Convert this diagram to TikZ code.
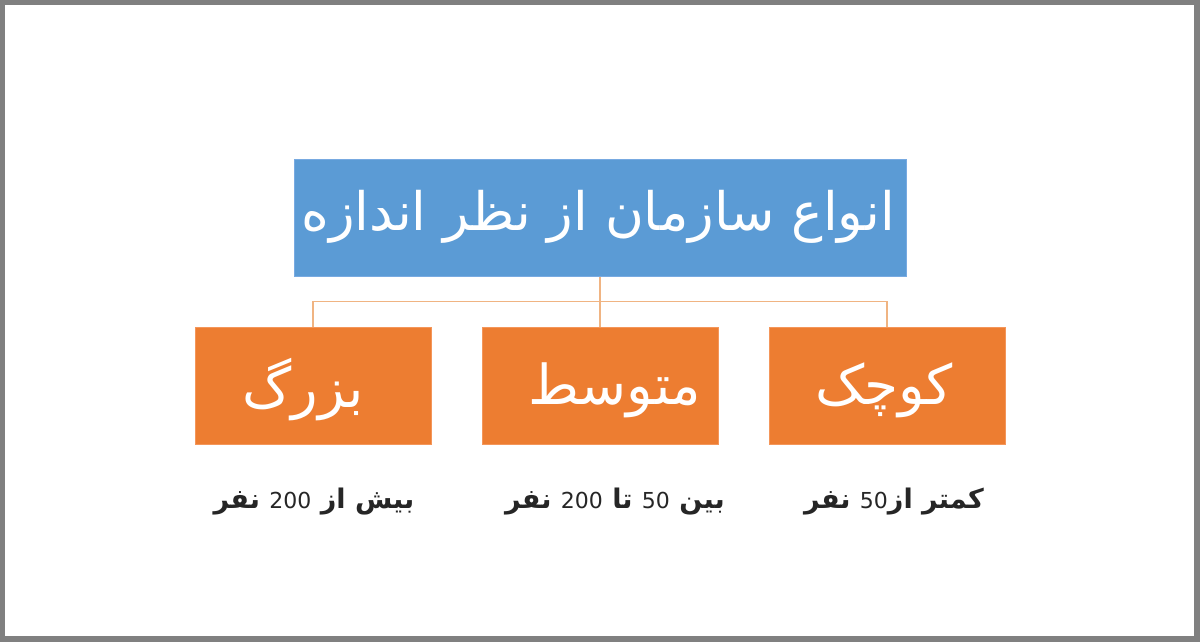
\documentclass[tikz,border=0pt]{standalone}
\usepackage{fontspec}
\TeXXeTstate=1
\newfontfamily\arabicfont[Script=Arabic]{DejaVu Sans}
\newfontfamily\digitfont{DejaVu Sans}
\usetikzlibrary{calc}
\definecolor{titleblue}{RGB}{91,155,213}
\definecolor{titleedge}{RGB}{120,170,225}
\definecolor{boxorange}{RGB}{237,125,49}
\definecolor{boxedge}{RGB}{244,150,90}
\definecolor{linkcol}{RGB}{240,180,130}
\definecolor{framegray}{RGB}{128,128,128}
\definecolor{captext}{RGB}{38,38,38}
\tikzset{
  titlebox/.style={fill=titleblue, draw=titleedge, line width=1pt, minimum width=612pt, minimum height=117pt, inner sep=0pt},
  sizebox/.style={fill=boxorange, draw=boxedge, line width=1pt, minimum width=236pt, minimum height=117pt, inner sep=0pt},
  titletext/.style={text=white, inner sep=0pt, font=\arabicfont\fontsize{53}{60}\selectfont},
  boxtext/.style={text=white, inner sep=0pt, font=\arabicfont\fontsize{55}{60}\selectfont},
  caption/.style={inner sep=0pt, text=captext, font=\arabicfont\bfseries\fontsize{27}{32}\selectfont},
  link/.style={draw=linkcol, line width=1.2pt}
}
\newcommand{\dg}[1]{{\digitfont\mdseries\fontsize{22}{26}\selectfont\beginL #1\endL}}
\begin{document}
\begin{tikzpicture}[x=1pt,y=-1pt]
\fill[framegray] (0,0) rectangle (1200,642);
\fill[white] (5,5) rectangle (1194,636);
\useasboundingbox (0,0) rectangle (1200,642);
\node[titlebox] (t) at (600,217.5) {};
\node[titletext] (tt) at (598,217) {\beginR انواع سازمان از نظر اندازه\endR};
\node[sizebox] (b1) at (313,385.5) {};
\node[sizebox] (b2) at (600,385.5) {};
\node[sizebox] (b3) at (887,385.5) {};
\node[boxtext] (l1) at (303,390) {\beginR بزرگ\endR};
\node[boxtext] (l2) at (615,390) {\beginR متوسط\endR};
\node[boxtext] (l3) at (884,390) {\beginR کوچک\endR};
\coordinate (j) at ($(t.south)+(0,25)$);
\draw[link] (t.south) -- (j);
\draw[link] (j) -| (b1.north);
\draw[link] (j) -| (b3.north);
\draw[link] (j) -- (b2.north);
\node[caption] (c1) at (314,502) {\beginR بیش از \dg{200} نفر\endR};
\node[caption] (c2) at (615,502) {\beginR بین \dg{50} تا \dg{200} نفر\endR};
\node[caption] (c3) at (894,502) {\beginR کمتر از\dg{50} نفر\endR};
\end{tikzpicture}
\end{document}
